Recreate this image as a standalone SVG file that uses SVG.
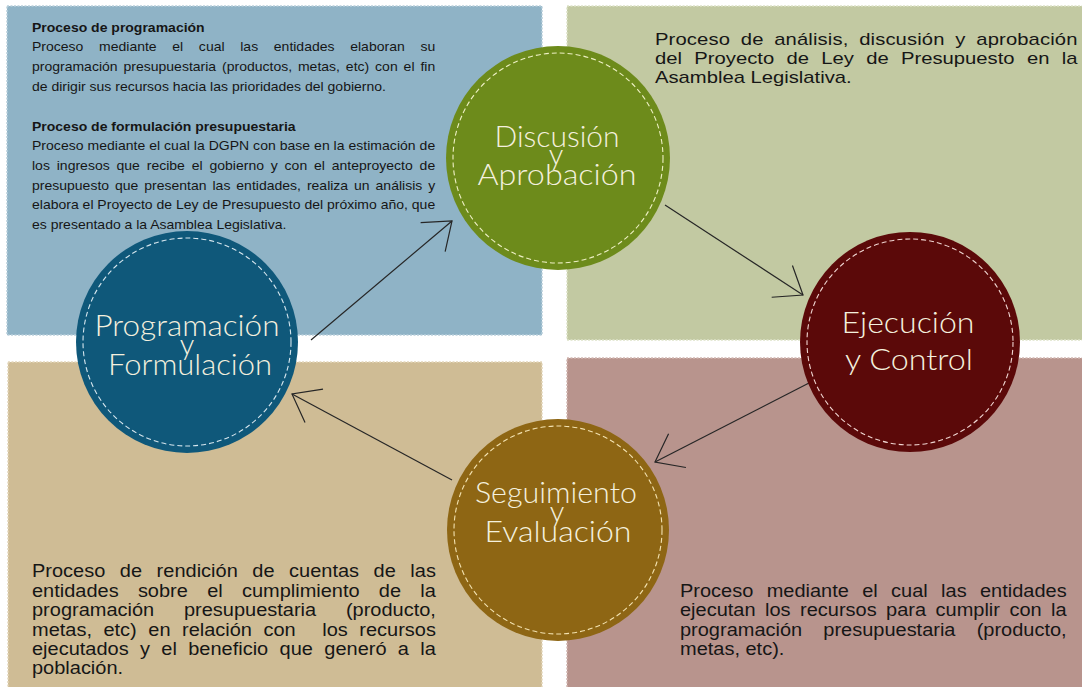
<svg xmlns="http://www.w3.org/2000/svg" width="1082" height="687" viewBox="0 0 1082 687">
<defs>
<style>
.body{font-family:"Liberation Sans",Arial,sans-serif;fill:#161616;}
.tl{font-size:12.5px;}
.tlb{font-size:12.5px;font-weight:bold;}
.big{font-size:18.5px;}
.tr{font-size:17px;}
.lbl{font-family:Lato,"Open Sans",sans-serif;font-weight:300;font-size:29px;fill:#f4f0de;text-anchor:middle;}
.panel{stroke-width:1.5;stroke-dasharray:2 1.5;}
.ring{fill:none;stroke-width:1.1;stroke-dasharray:5 3;}
.conn{stroke:#262626;stroke-width:1.2;fill:none;marker-end:url(#open);}
</style>
<marker id="open" markerUnits="userSpaceOnUse" markerWidth="40" markerHeight="40" viewBox="-30 -20 32 40" refX="0" refY="0" orient="auto" overflow="visible">
<path d="M-25,-19 L0,0 L-25,19" fill="none" stroke="#262626" stroke-width="1.2"/>
</marker>
</defs>
<rect width="1082" height="687" fill="#ffffff"/>

<g id="panel-programacion">
<rect class="panel" x="7" y="6" width="535" height="329" fill="#8fb3c6" stroke="#b9d0db"/>
<g class="body" transform="translate(32,0) scale(1.12,1)">
<text class="tlb" x="0" y="32">Proceso de programación</text>
<text class="tl" x="0" y="51" word-spacing="10.5" textLength="360" lengthAdjust="spacing">Proceso mediante el cual las entidades elaboran su</text>
<text class="tl" x="0" y="71" word-spacing="1.8" textLength="360" lengthAdjust="spacing">programación presupuestaria (productos, metas, etc) con el fin</text>
<text class="tl" x="0" y="91">de dirigir sus recursos hacia las prioridades del gobierno.</text>
<text class="tlb" x="0" y="131">Proceso de formulación presupuestaria</text>
<text class="tl" x="0" y="150" textLength="360" lengthAdjust="spacing">Proceso mediante el cual la DGPN con base en la estimación de</text>
<text class="tl" x="0" y="170" word-spacing="2.6" textLength="360" lengthAdjust="spacing">los ingresos que recibe el gobierno y con el anteproyecto de</text>
<text class="tl" x="0" y="190" word-spacing="1.8" textLength="360" lengthAdjust="spacing">presupuesto que presentan las entidades, realiza un análisis y</text>
<text class="tl" x="0" y="209" textLength="360" lengthAdjust="spacing">elabora el Proyecto de Ley de Presupuesto del próximo año, que</text>
<text class="tl" x="0" y="229">es presentado a la Asamblea Legislativa.</text>
</g>
</g>

<g id="panel-discusion">
<rect class="panel" x="567" y="6" width="520" height="334" fill="#c2c9a2" stroke="#dde2c8"/>
<g class="body" transform="translate(655,0) scale(1.19,1)">
<text class="tr" x="0" y="45" word-spacing="4.2" textLength="355" lengthAdjust="spacing">Proceso de análisis, discusión y aprobación</text>
<text class="tr" x="0" y="64" word-spacing="5.6" textLength="355" lengthAdjust="spacing">del Proyecto de Ley de Presupuesto en la</text>
<text class="tr" x="0" y="83">Asamblea Legislativa.</text>
</g>
</g>

<g id="panel-seguimiento">
<rect class="panel" x="8" y="362" width="534" height="330" fill="#cfbc95" stroke="#e3d6bb"/>
<g class="body" transform="translate(32,0) scale(1.08,1)">
<text class="big" x="0" y="577" word-spacing="8.3" textLength="374" lengthAdjust="spacing">Proceso de rendición de cuentas de las</text>
<text class="big" x="0" y="597" word-spacing="12.7" textLength="374" lengthAdjust="spacing">entidades sobre el cumplimiento de la</text>
<text class="big" x="0" y="616" word-spacing="22.5" textLength="374" lengthAdjust="spacing">programación presupuestaria (producto,</text>
<text class="big" x="0" y="636" word-spacing="5.5" textLength="374" lengthAdjust="spacing">metas, etc) en relación con <tspan dx="14">los recursos</tspan></text>
<text class="big" x="0" y="655" word-spacing="5.4" textLength="374" lengthAdjust="spacing">ejecutados y el beneficio que generó a la</text>
<text class="big" x="0" y="674">población.</text>
</g>
</g>

<g id="panel-ejecucion">
<rect class="panel" x="567" y="358" width="520" height="334" fill="#b8948d" stroke="#d2b8b2"/>
<g class="body" transform="translate(680,0) scale(1.08,1)">
<text class="big" x="0" y="597" word-spacing="7.2" textLength="358" lengthAdjust="spacing">Proceso mediante el cual las entidades</text>
<text class="big" x="0" y="616" word-spacing="3.6" textLength="358" lengthAdjust="spacing">ejecutan los recursos para cumplir con la</text>
<text class="big" x="0" y="636" word-spacing="14.5" textLength="358" lengthAdjust="spacing">programación presupuestaria (producto,</text>
<text class="big" x="0" y="655">metas, etc).</text>
</g>
</g>

<g id="connectors">
<line class="conn" x1="311" y1="340" x2="452" y2="221"/>
<line class="conn" x1="665" y1="205" x2="803" y2="295"/>
<line class="conn" x1="809" y1="383" x2="655" y2="462"/>
<line class="conn" x1="452" y1="480" x2="292" y2="394"/>
</g>

<g id="node-programacion">
<circle cx="187" cy="342" r="111" fill="#0f587a"/>
<circle class="ring" cx="187" cy="342" r="104" stroke="#d6e6ee"/>
<text class="lbl" x="187" y="336" textLength="185" lengthAdjust="spacingAndGlyphs">Programación</text>
<text class="lbl" x="187" y="355">y</text>
<text class="lbl" x="190" y="375" textLength="164" lengthAdjust="spacingAndGlyphs">Formulación</text>
</g>

<g id="node-discusion">
<circle cx="558" cy="158" r="112" fill="#6d8b1b"/>
<circle class="ring" cx="558" cy="158" r="105" stroke="#eef0c4"/>
<text class="lbl" x="557" y="147" textLength="125" lengthAdjust="spacingAndGlyphs">Discusión</text>
<text class="lbl" x="556" y="165">y</text>
<text class="lbl" x="557" y="185" textLength="159" lengthAdjust="spacingAndGlyphs">Aprobación</text>
</g>

<g id="node-ejecucion">
<circle cx="910" cy="342" r="110" fill="#5b0909"/>
<circle class="ring" cx="910" cy="342" r="103" stroke="#f0d6d2"/>
<text class="lbl" x="908" y="333" textLength="133" lengthAdjust="spacingAndGlyphs">Ejecución</text>
<text class="lbl" x="909" y="370" textLength="128" lengthAdjust="spacingAndGlyphs">y Control</text>
</g>

<g id="node-seguimiento">
<circle cx="558" cy="530" r="111" fill="#8e6614"/>
<circle class="ring" cx="558" cy="530" r="104" stroke="#f3e2b0"/>
<text class="lbl" x="556" y="503" textLength="162" lengthAdjust="spacingAndGlyphs">Seguimiento</text>
<text class="lbl" x="557" y="522">y</text>
<text class="lbl" x="558" y="542" textLength="147" lengthAdjust="spacingAndGlyphs">Evaluación</text>
</g>
</svg>
